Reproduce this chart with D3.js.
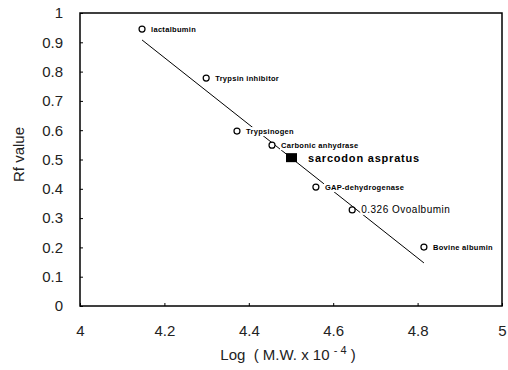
<html>
  <head>
    <style type="text/css">
      body { margin: 0; background: #fff; }
      text { font-family: "Liberation Sans", Arial, sans-serif; }
    </style>
    <script src="https://d3js.org/d3.v7.min.js"></script>
  </head>
  <body>
    <svg class="chart"></svg>
    <script>

// marker proteins
var proteins = ["lactalbumin", "Trypsin inhibitor", "Trypsinogen", "Carbonic anhydrase",
                "GAP-dehydrogenase", "0.326 Ovoalbumin", "Bovine albumin"];
var logMW = [4.147, 4.299, 4.372, 4.455, 4.559, 4.645, 4.815];
var rfValues = [0.945, 0.778, 0.597, 0.549, 0.406, 0.328, 0.201];

// sample
var sampleName = "sarcodon aspratus";
var sampleLogMW = 4.50;
var sampleRf = 0.508;

// fitted line end points
var fitX = [4.147, 4.815];
var fitY = [0.908, 0.147];

var xTicks = [4, 4.2, 4.4, 4.6, 4.8, 5];
var yTicks = [0, 0.1, 0.2, 0.3, 0.4, 0.5, 0.6, 0.7, 0.8, 0.9, 1];

var margin = {top: 13, right: 6, bottom: 64, left: 80},
    width = 508 - margin.left - margin.right,
    height = 370 - margin.top - margin.bottom;

var svg = d3.select(".chart")
    .attr("width", 508)
    .attr("height", 370)
  .append("g")
    .attr("transform", "translate(" + margin.left + "," + margin.top + ")");

var x = d3.scaleLinear().domain([4, 5]).range([0, width]);
var y = d3.scaleLinear().domain([0, 1]).range([height, 0]);

// frame
svg.append("rect")
  .attr("width", width)
  .attr("height", height)
  .attr("fill", "none")
  .attr("stroke", "#000")
  .attr("stroke-width", 1.5);

// axes
var xAxis = svg.append("g")
  .attr("transform", "translate(0," + height + ")")
  .call(d3.axisBottom(x).tickValues(xTicks).tickSize(-3).tickPadding(19)
        .tickFormat(d3.format("")));
var yAxis = svg.append("g")
  .call(d3.axisLeft(y).tickValues(yTicks).tickSize(-3).tickPadding(17)
        .tickFormat(d3.format("")));
[xAxis, yAxis].forEach(function(a) {
  a.select(".domain").remove();
  a.selectAll("text").attr("font-size", 15).attr("fill", "#222")
    .style("font-family", "'Liberation Sans', Arial, sans-serif");
});

// fitted line
svg.append("line")
  .attr("x1", x(fitX[0])).attr("y1", y(fitY[0]))
  .attr("x2", x(fitX[1])).attr("y2", y(fitY[1]))
  .attr("stroke", "#000")
  .attr("stroke-width", 1);

// labels with white backing
var labels = svg.selectAll(".lab")
  .data(proteins)
  .enter().append("g")
    .attr("class", "lab")
    .attr("transform", function(d, i) {
      return "translate(" + (x(logMW[i]) + 9) + "," + (y(rfValues[i]) + 3) + ")";
    });
labels.append("text")
  .attr("font-size", function(d, i) { return i == 5 ? 10 : 7.5; })
  .attr("font-weight", function(d, i) { return i == 5 ? "normal" : "bold"; })
  .attr("letter-spacing", function(d, i) { return i == 5 ? 0.5 : 0.3; })
  .text(function(d) { return d; });
labels.each(function() {
  var bb = d3.select(this).select("text").node().getBBox();
  d3.select(this).insert("rect", "text")
    .attr("x", bb.x - 1).attr("y", bb.y)
    .attr("width", bb.width + 2).attr("height", bb.height)
    .attr("fill", "#fff");
});

// markers
svg.selectAll(".pt")
  .data(logMW)
  .enter().append("circle")
    .attr("class", "pt")
    .attr("cx", function(d) { return x(d); })
    .attr("cy", function(d, i) { return y(rfValues[i]); })
    .attr("r", 3)
    .attr("fill", "#fff")
    .attr("stroke", "#000")
    .attr("stroke-width", 1.2);

// sample
svg.append("rect")
  .attr("x", x(sampleLogMW) - 5)
  .attr("y", y(sampleRf) - 4)
  .attr("width", 11)
  .attr("height", 9)
  .attr("fill", "#000");
svg.append("text")
  .attr("x", x(sampleLogMW) + 17)
  .attr("y", y(sampleRf) + 5)
  .attr("font-size", 11)
  .attr("font-weight", "bold")
  .attr("letter-spacing", 0.8)
  .text(sampleName);

// axis titles
svg.append("text")
  .attr("x", width / 2 - 3)
  .attr("y", height + 54)
  .attr("text-anchor", "middle")
  .attr("font-size", 15)
  .attr("fill", "#222")
  .attr("xml:space", "preserve")
  .html("Log  ( M.W. x 10 <tspan dy='-6' font-size='11'>- 4</tspan><tspan dy='6'> )</tspan>");

svg.append("text")
  .attr("transform", "translate(-56," + (height / 2 - 5) + ") rotate(-90)")
  .attr("text-anchor", "middle")
  .attr("font-size", 15)
  .attr("fill", "#222")
  .text("Rf value");

</script>
  </body>
</html>
